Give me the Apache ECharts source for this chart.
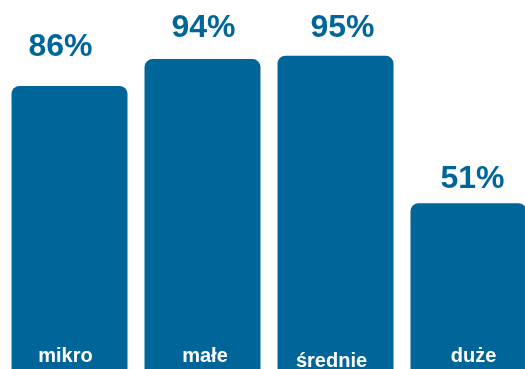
<!DOCTYPE html>
<html><head><meta charset="utf-8">
<script src="https://cdn.jsdelivr.net/npm/echarts@6/dist/echarts.min.js"></script>
<style>html,body{margin:0;padding:0;background:#fff}#c{width:525px;height:369px}</style>
</head><body><div id="c"></div>
<script>
const categories = ['mikro', 'małe', 'średnie', 'duże'];
const values = [86, 94, 95, 51];
const color = '#00669a';
// per-item label placement tweaks (x offset, distance above bar)
const labelDx = [-9, 1, 7, 4];
const labelDist = [23, 14.5, 12, 7.5];
const catPad = [[0, 8, 0, 0], [0, 0, 0, 5], [0, 8, -5, 0], [0, 0, 0, 10]];
const chart = echarts.init(document.getElementById('c'));
chart.setOption({
  animation: false,
  grid: { left: 3, top: 39, width: 532, height: 335, outerBoundsMode: 'none', containLabel: false },
  xAxis: {
    type: 'category',
    data: categories.map((c, i) => ({ value: c, textStyle: { padding: catPad[i] } })),
    axisLine: { show: false }, axisTick: { show: false },
    axisLabel: { inside: true, margin: 8, color: '#fff', fontSize: 20, fontWeight: 'bold', fontFamily: 'Liberation Sans' },
    z: 10
  },
  yAxis: { type: 'value', min: 0, max: 100, show: false, splitLine: { show: false } },
  series: [{
    type: 'bar', barWidth: 116,
    data: values.map((v, i) => ({ value: v, label: { distance: labelDist[i], offset: [labelDx[i], 0] } })),
    itemStyle: { color: color, borderRadius: [8, 8, 0, 0] },
    label: { show: true, position: 'top', formatter: '{c}%', color: color, fontSize: 32, fontWeight: 'bold', fontFamily: 'Liberation Sans' }
  }]
});
</script></body></html>
